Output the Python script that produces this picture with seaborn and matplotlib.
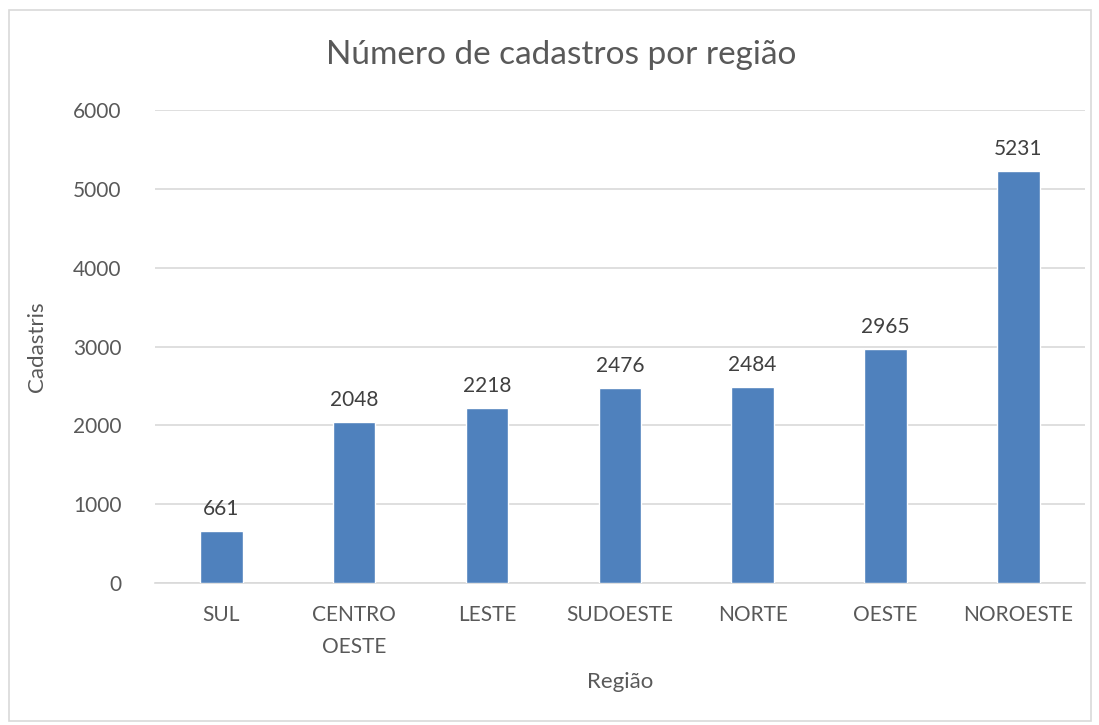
import pandas as pd
import matplotlib.pyplot as plt
import seaborn as sns
from matplotlib.patches import Rectangle

sns.set_style("white")
plt.rcParams['font.family'] = ['Lato', 'DejaVu Sans']

regioes = ["SUL", "CENTRO\nOESTE", "LESTE", "SUDOESTE", "NORTE", "OESTE", "NOROESTE"]
cadastros = [661, 2048, 2218, 2476, 2484, 2965, 5231]

df = pd.DataFrame({"Regiao": regioes, "Cadastros": cadastros})

fig = plt.figure(figsize=(10.99, 7.25), dpi=100)
ax = fig.add_axes([0.141, 0.196, 0.846, 0.652])

sns.barplot(x="Regiao", y="Cadastros", data=df, color="#4F81BD", width=0.32,
            saturation=1, ax=ax, zorder=3)

for i, v in enumerate(cadastros):
    ax.text(i, v + 150, str(v), ha="center", va="bottom", fontsize=15, color="#404040")

ax.set_ylim(0, 6000)
ax.set_yticks(range(0, 6001, 1000))
ax.grid(axis="y", color="#D9D9D9", linewidth=1.2, zorder=0)
for s in ["top", "right", "left"]:
    ax.spines[s].set_visible(False)
ax.spines["bottom"].set_color("#D9D9D9")
ax.spines["bottom"].set_linewidth(1.2)
ax.tick_params(axis="both", length=0, labelsize=15, labelcolor="#595959")
ax.tick_params(axis="y", pad=24)
ax.tick_params(axis="x", pad=16)
for lbl in ax.get_xticklabels():
    lbl.set_linespacing(1.75)

fig.suptitle("Número de cadastros por região", x=0.511, y=0.924, va="center",
             fontsize=24, color="#595959")
ax.set_xlabel("Região", fontsize=16, color="#595959", labelpad=11)
ax.set_ylabel("Cadastris", fontsize=16, color="#595959", labelpad=19)

fig.patches.append(Rectangle((0.008, 0.005), 0.985, 0.981, transform=fig.transFigure,
                             fill=False, edgecolor="#D9D9D9", linewidth=1.2))

fig.savefig("out.png", dpi=100)
